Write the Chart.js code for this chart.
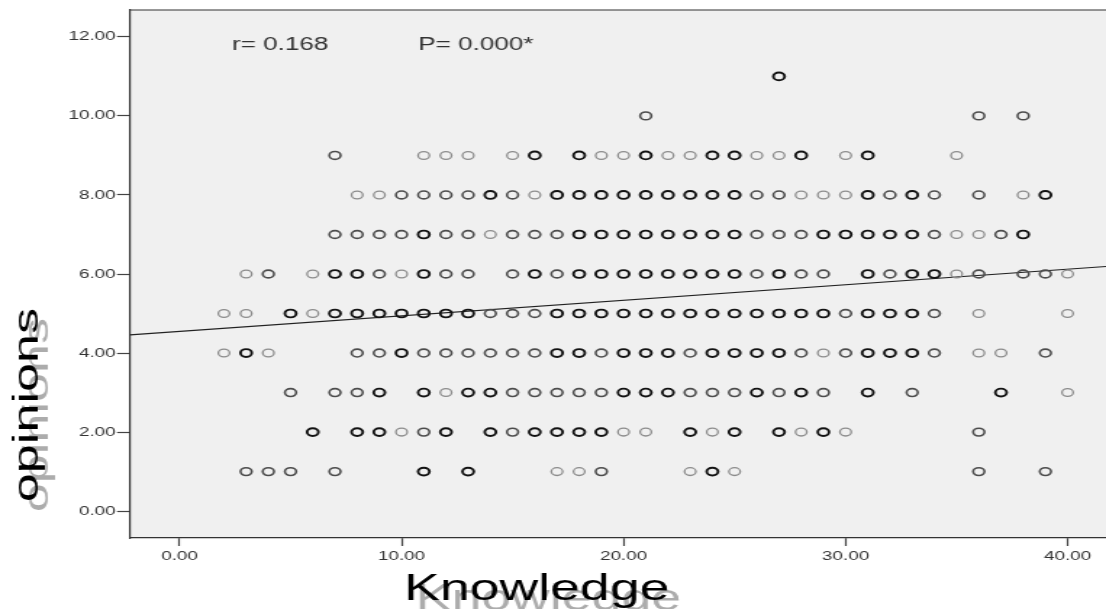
<!DOCTYPE html>
<html>
<head>
<meta charset="utf-8">
<script src="https://cdn.jsdelivr.net/npm/chart.js@4.4.0/dist/chart.umd.min.js"></script>
<style>
  html, body { margin: 0; padding: 0; background: #fff; overflow: hidden; }
  #chart { display: block; }
</style>
</head>
<body>
<!-- the original export is stretched sideways, so the canvas is drawn narrow and widened by css -->
<canvas id="chart" width="763" height="609" style="width:1106px;height:609px"></canvas>
<script>
// opinion score levels (y axis)
var opinionLevels = [1, 2, 3, 4, 5, 6, 7, 8, 9, 10, 11];

// knowledge scores seen at each opinion level, plus how dark the marker is (1 light .. 3 heavy overlap)
var knowledgeAt1 = [3, 4, 5, 7, 11, 13, 17, 18, 19, 23, 24, 25, 36, 39];
var shadeAt1     = [2, 2, 2, 2, 3, 3, 1, 1, 2, 1, 3, 1, 2, 2];

var knowledgeAt2 = [6, 8, 9, 10, 11, 12, 14, 15, 16, 17, 18, 19, 20, 21, 23, 24, 25, 27, 28, 29, 30, 36];
var shadeAt2     = [3, 3, 3, 1, 2, 3, 3, 2, 3, 3, 3, 3, 1, 1, 3, 1, 3, 3, 1, 3, 1, 2];

var knowledgeAt3 = [5, 7, 8, 9, 11, 12, 13, 14, 15, 16, 17, 18, 19, 20, 21, 22, 23, 24, 25, 26, 27, 28, 29, 31, 33, 37, 40];
var shadeAt3     = [2, 2, 2, 3, 3, 1, 3, 3, 2, 2, 2, 2, 2, 3, 3, 3, 2, 2, 2, 3, 2, 3, 2, 3, 2, 3, 1];

var knowledgeAt4 = [2, 3, 4, 8, 9, 10, 11, 12, 13, 14, 15, 16, 17, 18, 19, 20, 21, 22, 23, 24, 25, 26, 27, 28, 29, 30, 31, 32, 33, 34, 36, 37, 39];
var shadeAt4     = [1, 3, 1, 2, 2, 3, 2, 2, 2, 2, 2, 2, 3, 3, 2, 3, 3, 3, 2, 3, 3, 3, 3, 2, 1, 2, 3, 3, 3, 2, 1, 1, 2];

var knowledgeAt5 = [2, 3, 5, 6, 7, 8, 9, 10, 11, 12, 13, 14, 15, 16, 17, 18, 19, 20, 21, 22, 23, 24, 25, 26, 27, 28, 29, 30, 31, 32, 33, 34, 36, 40];
var shadeAt5     = [1, 1, 3, 1, 3, 3, 3, 3, 3, 3, 3, 2, 2, 2, 3, 3, 3, 3, 3, 3, 3, 3, 3, 3, 3, 3, 3, 2, 3, 3, 3, 2, 1, 1];

var knowledgeAt6 = [3, 4, 6, 7, 8, 9, 10, 11, 12, 13, 15, 16, 17, 18, 19, 20, 21, 22, 23, 24, 25, 26, 27, 28, 29, 31, 32, 33, 34, 35, 36, 38, 39, 40];
var shadeAt6     = [1, 2, 1, 3, 3, 2, 1, 3, 2, 2, 2, 3, 2, 3, 3, 3, 3, 3, 3, 3, 3, 2, 3, 2, 2, 3, 2, 3, 3, 1, 2, 2, 2, 1];

var knowledgeAt7 = [7, 8, 9, 10, 11, 12, 13, 14, 15, 16, 17, 18, 19, 20, 21, 22, 23, 24, 25, 26, 27, 28, 29, 30, 31, 32, 33, 34, 35, 36, 37, 38];
var shadeAt7     = [2, 2, 2, 2, 3, 2, 2, 1, 2, 2, 2, 3, 3, 3, 3, 3, 3, 3, 3, 2, 2, 2, 3, 3, 3, 3, 3, 2, 1, 1, 2, 3];

var knowledgeAt8 = [8, 9, 10, 11, 12, 13, 14, 15, 16, 17, 18, 19, 20, 21, 22, 23, 24, 25, 26, 27, 28, 29, 30, 31, 32, 33, 34, 36, 38, 39];
var shadeAt8     = [1, 1, 2, 2, 2, 2, 3, 2, 1, 3, 3, 3, 3, 3, 3, 3, 3, 3, 2, 2, 1, 1, 1, 3, 2, 3, 2, 2, 1, 3];

var knowledgeAt9 = [7, 11, 12, 13, 15, 16, 18, 19, 20, 21, 22, 23, 24, 25, 26, 27, 28, 30, 31, 35];
var shadeAt9     = [2, 1, 1, 1, 1, 3, 3, 1, 1, 3, 1, 1, 3, 3, 1, 1, 3, 1, 3, 1];

var knowledgeAt10 = [21, 36, 38];
var shadeAt10     = [2, 2, 2];

var knowledgeAt11 = [27];
var shadeAt11     = [3];

// fitted regression line, read at both ends of the x axis
var fitKnowledge = [-2.23, 41.73];
var fitOpinion   = [4.46, 6.19];

// axis ranges and tick steps
var xMin = -2.23, xMax = 41.73, xStep = 10;
var yMin = -0.68, yMax = 12.68, yStep = 2;

var corrLabel = "r= 0.168";
var pLabel = "P= 0.000*";
var xTitle = "Knowledge";
var yTitle = "opinions";

var stretch = 1106 / 763;
var fontFamily = '"Liberation Sans", Arial, sans-serif';

var shadeColor = {1: "#8c8c8c", 2: "#4c4c4c", 3: "#121212"};
var shadeWidth = {1: 1.3, 2: 1.6, 3: 1.9};

var rows = [knowledgeAt1, knowledgeAt2, knowledgeAt3, knowledgeAt4, knowledgeAt5, knowledgeAt6,
            knowledgeAt7, knowledgeAt8, knowledgeAt9, knowledgeAt10, knowledgeAt11];
var shades = [shadeAt1, shadeAt2, shadeAt3, shadeAt4, shadeAt5, shadeAt6,
              shadeAt7, shadeAt8, shadeAt9, shadeAt10, shadeAt11];

var points = [], colors = [], widths = [];
rows.forEach(function(xs, i){
  xs.forEach(function(x, j){
    points.push({x: x, y: opinionLevels[i]});
    colors.push(shadeColor[shades[i][j]]);
    widths.push(shadeWidth[shades[i][j]]);
  });
});

var fitPoints = fitKnowledge.map(function(x, i){ return {x: x, y: fitOpinion[i]}; });

// draws text reading bottom-to-top, stretched along its baseline like the rest of the picture
function drawUpText(ctx, text, cx, cy){
  ctx.save();
  ctx.translate(cx, cy);
  ctx.scale(1 / stretch, 1);
  ctx.rotate(-Math.PI / 2);
  ctx.scale(stretch, 1);
  ctx.fillText(text, 0, 0);
  ctx.restore();
}

var plotDecor = {
  id: "plotDecor",
  beforeDraw: function(chart){
    var a = chart.chartArea, ctx = chart.ctx;
    ctx.save();
    ctx.fillStyle = "#f0f0f0";
    ctx.fillRect(a.left, a.top, a.right - a.left, a.bottom - a.top);
    ctx.strokeStyle = "#333";
    ctx.lineWidth = 1.2;
    ctx.beginPath();
    ctx.moveTo(a.left, a.top);
    ctx.lineTo(a.right, a.top);
    ctx.stroke();
    ctx.restore();
  },
  afterDraw: function(chart){
    var ctx = chart.ctx;
    ctx.save();
    ctx.textBaseline = "alphabetic";

    ctx.font = "18px " + fontFamily;
    ctx.fillStyle = "#333";
    ctx.textAlign = "left";
    ctx.fillText(corrLabel, 160, 50);
    ctx.fillText(pLabel, 288.5, 50);

    // axis titles with their grey drop shadow
    ctx.font = "37px " + fontFamily;
    ctx.fillStyle = "#acacac";
    ctx.fillText(xTitle, 278.7 + 8, 600 + 10);
    ctx.fillStyle = "#000";
    ctx.fillText(xTitle, 278.7, 600);

    ctx.font = "36px " + fontFamily;
    ctx.textAlign = "center";
    ctx.fillStyle = "#acacac";
    drawUpText(ctx, yTitle, 26.2 + 6.9, 405 + 10);
    ctx.fillStyle = "#000";
    drawUpText(ctx, yTitle, 26.2, 405);
    ctx.restore();
  }
};

var ctx = document.getElementById("chart").getContext("2d");

window.chart = new Chart(ctx, {
  type: "scatter",
  data: {
    datasets: [
      {
        label: "opinions",
        data: points,
        pointStyle: "circle",
        pointRadius: 3.9,
        pointBackgroundColor: "rgba(0,0,0,0)",
        pointBorderColor: colors,
        pointBorderWidth: widths,
        showLine: false
      },
      {
        label: "fit",
        type: "line",
        data: fitPoints,
        borderColor: "#222",
        borderWidth: 1.2,
        pointRadius: 0,
        fill: false,
        tension: 0
      }
    ]
  },
  options: {
    responsive: false,
    devicePixelRatio: 1,
    animation: false,
    events: [],
    // no room kept for marker overflow, the plot runs to the right edge
    layout: { autoPadding: false, padding: { top: 10, left: 0, right: 0, bottom: 0 } },
    plugins: {
      legend: { display: false },
      tooltip: { enabled: false }
    },
    scales: {
      x: {
        type: "linear",
        min: xMin,
        max: xMax,
        afterFit: function(scale){
          scale.height = 71;
          scale.paddingLeft = 0;
          scale.paddingRight = 0;
        },
        border: { display: true, color: "#333", width: 1.2 },
        grid: { display: true, drawOnChartArea: false, drawTicks: true, tickLength: 8, tickColor: "#444", tickWidth: 1.2 },
        ticks: {
          stepSize: xStep,
          includeBounds: false,
          autoSkip: false,
          maxRotation: 0,
          padding: 3,
          color: "#333",
          font: { family: fontFamily, size: 13 },
          callback: function(v){ return Number(v).toFixed(2); }
        }
      },
      y: {
        type: "linear",
        min: yMin,
        max: yMax,
        afterFit: function(scale){
          scale.width = 89.7;
          scale.paddingTop = 0;
          scale.paddingBottom = 0;
        },
        border: { display: true, color: "#333", width: 1.2 },
        grid: { display: true, drawOnChartArea: false, drawTicks: true, tickLength: 9, tickColor: "#444", tickWidth: 1.2 },
        ticks: {
          stepSize: yStep,
          includeBounds: false,
          autoSkip: false,
          padding: 1,
          color: "#333",
          font: { family: fontFamily, size: 13 },
          callback: function(v){ return Number(v).toFixed(2); }
        }
      }
    }
  },
  plugins: [plotDecor]
});
</script>
</body>
</html>
